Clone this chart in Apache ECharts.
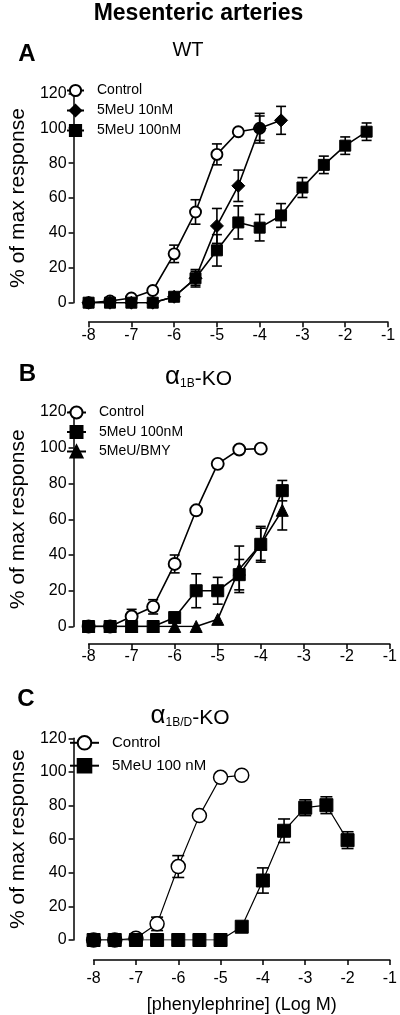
<!DOCTYPE html>
<html>
<head>
<meta charset="utf-8">
<script src="https://cdn.jsdelivr.net/npm/echarts@6/dist/echarts.min.js"></script>
<style>html,body{margin:0;padding:0;background:#fff}#c{width:400px;height:1015px}</style>
</head>
<body>
<div id="c"></div>
<script>
// ---- data ----
const xTicksLabels = ['-8','-7','-6','-5','-4','-3','-2','-1'];
const yTickLabels = ['0','20','40','60','80','100','120'];

// Panel A (WT)
const xA_ctrl = [-8,-7.5,-7,-6.5,-6,-5.5,-5,-4.5,-4];
const yA_ctrl = [0,1,2.7,7,28,52,85,98,100];
const eA_ctrl = [0,0,1,1,5,7,6,1,7];
const xA_10 = [-8,-7.5,-7,-6.5,-6,-5.5,-5,-4.5,-4,-3.5];
const yA_10 = [0,0,0,0,3.4,14,44,67,100,104.5];
const eA_10 = [0,0,0,0,1,5,10,9,8.5,8];
const xA_100 = [-8,-7.5,-7,-6.5,-6,-5.5,-5,-4.5,-4,-3.5,-3,-2.5,-2,-1.5];
const yA_100 = [0,0,0,0,3.4,14,30,46,43,50,66,79,90,98];
const eA_100 = [0,0,0,0,1,4,9,9.5,7.6,6.8,5.7,5,5,5];

// Panel B (alpha1B-KO)
const xB_ctrl = [-8,-7.5,-7,-6.5,-6,-5.5,-5,-4.5,-4];
const yB_ctrl = [0,0,5.6,11,35,65,91,99,99.5];
const eB_ctrl = [0,0,4,4,5,0,0,0,0];
const xB_100 = [-8,-7.5,-7,-6.5,-6,-5.5,-5,-4.5,-4,-3.5];
const yB_100 = [0,0,0,0,5,20,20,29,46,76];
const eB_100 = [0,0,0,0,0,9.5,7.5,8.5,10,5.7];
const xB_bmy = [-8,-7.5,-7,-6.5,-6,-5.5,-5,-4.5,-4,-3.5];
const yB_bmy = [0,0,0,0,0,0,4,32,46,65];
const eB_bmy = [0,0,0,0,0,0,0,13,9,11];

// Panel C (alpha1B/D-KO)
const xC_ctrl = [-8,-7.5,-7,-6.5,-6,-5.5,-5,-4.5];
const yC_ctrl = [0,0,1,9.6,43.7,74,96.8,98];
const eC_ctrl = [0,0,0,4,6.5,0,0,0];
const xC_100 = [-8,-7.5,-7,-6.5,-6,-5.5,-5,-4.5,-4,-3.5,-3,-2.5,-2];
const yC_100 = [0,0,0,0,0,0,0,7.9,35.4,65,78.7,80.2,59.4];
const eC_100 = [0,0,0,0,0,0,0,1,7.5,7,4.7,5,5];

// ---- helpers ----
const FONT = 'Liberation Sans, Arial, Helvetica, sans-serif';
function pts(xs, ys){ return xs.map((x,i)=>[x, ys[i]]); }
function errs(xs, ys, es){ return xs.map((x,i)=>[x, ys[i], es[i]]); }

function lineSeries(name, idx, xs, ys, symbol, size, filled, lw){
  return {
    type:'line', name:name, xAxisIndex:idx, yAxisIndex:idx,
    data: pts(xs, ys), symbol: symbol, symbolSize: size, showAllSymbol:true,
    lineStyle:{color:'#000', width:lw},
    itemStyle: filled ? {color:'#000', borderColor:'#000', borderWidth:1} : {color:'#fff', borderColor:'#000', borderWidth:lw+0.3},
    z: filled ? 4 : 3, animation:false, emphasis:{disabled:true}
  };
}
function errSeries(idx, xs, ys, es, cap){
  return {
    type:'custom', xAxisIndex:idx, yAxisIndex:idx, z:2, silent:true, animation:false,
    data: errs(xs, ys, es),
    renderItem: function(params, api){
      const x = api.value(0), y = api.value(1), e = api.value(2);
      if (!e) return null;
      const top = api.coord([x, y+e]), bot = api.coord([x, y-e]);
      const st = {stroke:'#000', lineWidth:1.6};
      return {type:'group', children:[
        {type:'line', shape:{x1:top[0], y1:top[1], x2:bot[0], y2:bot[1]}, style:st},
        {type:'line', shape:{x1:top[0]-cap, y1:top[1], x2:top[0]+cap, y2:top[1]}, style:st},
        {type:'line', shape:{x1:bot[0]-cap, y1:bot[1], x2:bot[0]+cap, y2:bot[1]}, style:st}
      ]};
    }
  };
}
function xAxisCfg(idx, off, margin, name){
  return {
    type:'value', gridIndex:idx, min:-8, max:-1, interval:1, offset:off,
    axisLine:{show:true, onZero:false, lineStyle:{color:'#000', width:1.5}},
    axisTick:{show:true, inside:false, length:5, lineStyle:{color:'#000', width:1.5}},
    axisLabel:{color:'#000', fontSize:16, fontFamily:FONT, margin:margin,
      formatter:function(v){ return xTicksLabels[Math.round(v+8)]; }},
    splitLine:{show:false},
    name: name || '', nameLocation:'middle', nameGap:36,
    nameTextStyle:{color:'#000', fontSize:18, fontFamily:FONT}
  };
}
function yAxisCfg(idx, off, gap){
  return {
    type:'value', gridIndex:idx, min:0, max:120, interval:20, offset:off,
    axisLine:{show:true, onZero:false, lineStyle:{color:'#000', width:1.5}},
    axisTick:{show:true, inside:false, length:5, lineStyle:{color:'#000', width:1.5}},
    axisLabel:{color:'#000', fontSize:16, fontFamily:FONT, margin:7,
      formatter:function(v){ return yTickLabels[Math.round(v/20)]; }},
    splitLine:{show:false},
    name:'% of max response', nameLocation:'middle', nameGap:gap, nameRotate:90,
    nameTextStyle:{color:'#000', fontSize:21, fontFamily:FONT}
  };
}
function legendCfg(top, left, names, iw, ih, gap, fs, pad){
  return {
    orient:'vertical', top:top, left:left, itemWidth:iw, itemHeight:ih, itemGap:gap,
    data:names, selectedMode:false, padding:0,
    textStyle:{color:'#000', fontSize:fs, fontFamily:FONT, padding:[0,0,0,pad]}
  };
}
const subRich = {
  a:{fontSize:26, fontFamily:FONT, fill:'#000', verticalAlign:'bottom', lineHeight:26},
  s:{fontSize:12, fontFamily:FONT, fill:'#000', verticalAlign:'bottom', lineHeight:19},
  b:{fontSize:21, fontFamily:FONT, fill:'#000', verticalAlign:'bottom', lineHeight:24}
};

const option = {
  animation:false,
  backgroundColor:'#fff',
  grid:[
    {left:76.7, top:93.3, width:311.3, height:209.4},
    {left:76.7, top:412, width:314, height:214.5},
    {left:86.7, top:738.3, width:307.3, height:203.4}
  ],
  xAxis:[ xAxisCfg(0, 19.5, 5), xAxisCfg(1, 17.5, 5), xAxisCfg(2, 20, 11, '[phenylephrine] (Log M)') ],
  yAxis:[ yAxisCfg(0, 15, 32), yAxisCfg(1, 15, 32), yAxisCfg(2, 20, 30) ],
  legend:[
    legendCfg(83.5, 66, ['Control','5MeU 10nM','5MeU 100nM'], 17, 14, 6, 14, 8),
    legendCfg(405.5, 66, ['Control ','5MeU 100nM ','5MeU/BMY'], 19, 15, 5.5, 14, 8),
    legendCfg(735, 69, ['Control  ','5MeU 100 nM'], 29, 17, 7.3, 15, 8)
  ],
  series:[
    errSeries(0, xA_ctrl, yA_ctrl, eA_ctrl, 5),
    errSeries(0, xA_10, yA_10, eA_10, 5),
    errSeries(0, xA_100, yA_100, eA_100, 5),
    lineSeries('5MeU 100nM', 0, xA_100, yA_100, 'rect', 11, true, 1.6),
    lineSeries('5MeU 10nM', 0, xA_10, yA_10, 'diamond', 13, true, 1.6),
    lineSeries('Control', 0, xA_ctrl, yA_ctrl, 'circle', 11, false, 1.6),

    errSeries(1, xB_ctrl, yB_ctrl, eB_ctrl, 5),
    errSeries(1, xB_100, yB_100, eB_100, 5),
    errSeries(1, xB_bmy, yB_bmy, eB_bmy, 5),
    lineSeries('5MeU/BMY', 1, xB_bmy, yB_bmy, 'triangle', 12, true, 1.6),
    lineSeries('5MeU 100nM ', 1, xB_100, yB_100, 'rect', 12, true, 1.6),
    lineSeries('Control ', 1, xB_ctrl, yB_ctrl, 'circle', 12, false, 1.6),

    errSeries(2, xC_ctrl, yC_ctrl, eC_ctrl, 6),
    errSeries(2, xC_100, yC_100, eC_100, 6),
    lineSeries('5MeU 100 nM', 2, xC_100, yC_100, 'rect', 13, true, 1.2),
    lineSeries('Control  ', 2, xC_ctrl, yC_ctrl, 'circle', 14, false, 1.2)
  ],
  graphic:[
    {type:'text', x:198.5, y:14, style:{text:'Mesenteric arteries', font:'bold 23px '+FONT, fill:'#000', textAlign:'center', textVerticalAlign:'middle'}},
    {type:'text', x:27, y:54.5, style:{text:'A', font:'bold 24px '+FONT, fill:'#000', textAlign:'center', textVerticalAlign:'middle'}},
    {type:'text', x:188, y:50, style:{text:'WT', font:'20px '+FONT, fill:'#000', textAlign:'center', textVerticalAlign:'middle'}},
    {type:'text', x:27.5, y:374, style:{text:'B', font:'bold 24px '+FONT, fill:'#000', textAlign:'center', textVerticalAlign:'middle'}},
    {type:'text', x:198.5, y:377, style:{text:'{a|α}{s|1B}{b|-KO}', textAlign:'center', textVerticalAlign:'middle', fill:'#000', rich:subRich}},
    {type:'text', x:26, y:699, style:{text:'C', font:'bold 24px '+FONT, fill:'#000', textAlign:'center', textVerticalAlign:'middle'}},
    {type:'text', x:190, y:716, style:{text:'{a|α}{s|1B/D}{b|-KO}', textAlign:'center', textVerticalAlign:'middle', fill:'#000', rich:subRich}}
  ]
};
const chart = echarts.init(document.getElementById('c'), null, {renderer:'canvas'});
chart.setOption(option);
</script>
</body>
</html>
